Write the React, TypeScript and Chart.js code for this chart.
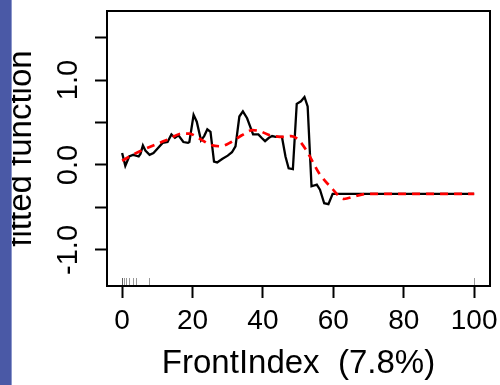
import React, { useEffect, useRef } from "react";
import { Chart, registerables } from "chart.js";

Chart.register(...registerables);

// Partial dependence of the fitted function on FrontIndex
const fitX = [
  0, 0.9, 2, 3.2, 4.7, 5.2, 5.9, 6.6, 7.8, 8.9, 10.2, 11.5, 12.9, 14, 15, 16,
  17.4, 18.7, 19.1, 20.3, 21.2, 22.4, 23.3, 24.2, 25.1, 26.1, 27, 28.4, 30,
  31.2, 32.2, 33.3, 34.3, 35.5, 37.2, 38.7, 39.6, 40.6, 41.7, 42.6, 43.6,
  45.4, 46.4, 47.3, 48.5, 49.6, 50.8, 51.8, 52.7, 53.8, 55.3, 56.2, 57.4,
  58.6, 59.8, 100,
];
const fitY = [
  0.14, -0.01, 0.1, 0.12, 0.1, 0.13, 0.23, 0.17, 0.12, 0.14, 0.2, 0.26, 0.27,
  0.36, 0.32, 0.35, 0.27, 0.26, 0.27, 0.59, 0.51, 0.29, 0.34, 0.42, 0.39,
  0.04, 0.03, 0.07, 0.11, 0.15, 0.22, 0.57, 0.63, 0.55, 0.36, 0.36, 0.32,
  0.28, 0.32, 0.34, 0.33, 0.33, 0.1, -0.04, -0.05, 0.72, 0.75, 0.8, 0.69,
  -0.25, -0.23, -0.29, -0.45, -0.46, -0.34, -0.34,
];

// Smoothed trend of the same function
const smoothX = [
  0, 3, 6, 10, 13, 17, 19, 22, 25, 28, 31, 34, 37, 39, 42, 46, 48, 50, 52.5,
  56, 59.5, 63, 66, 69.5, 75, 100,
];
const smoothY = [
  0.05, 0.12, 0.18, 0.25, 0.3, 0.37, 0.37, 0.31, 0.24, 0.22, 0.27, 0.35, 0.41,
  0.4, 0.35, 0.33, 0.34, 0.3, 0.16, -0.1, -0.27, -0.4, -0.37, -0.34, -0.34,
  -0.34,
];

// Observed FrontIndex values shown as a rug along the bottom
const rugX = [0, 0, 0.5, 1, 2, 3, 4, 7.5, 100];

const xTickValues = [0, 20, 40, 60, 80, 100];
const yTickValues = [-1, -0.5, 0, 0.5, 1, 1.5];
const yTickLabels = ["-1.0", "", "0.0", "", "1.0", ""];
const xTitle = "FrontIndex  (7.8%)";
const yTitle = "fitted function";

const FONT = "'Liberation Sans', Arial, Helvetica, sans-serif";

const framePlugin = {
  id: "frameAndRug",
  afterDatasetsDraw(chart: any) {
    const { ctx, chartArea, scales } = chart;
    const xs = scales.x;
    ctx.save();
    ctx.strokeStyle = "rgba(0,0,0,0.4)";
    ctx.lineWidth = 1;
    for (const v of rugX) {
      const px = Math.round(xs.getPixelForValue(v)) + 0.5;
      ctx.beginPath();
      ctx.moveTo(px, chartArea.bottom);
      ctx.lineTo(px, chartArea.bottom - 8);
      ctx.stroke();
    }
    ctx.strokeStyle = "#000";
    ctx.lineWidth = 2;
    ctx.strokeRect(
      chartArea.left,
      chartArea.top,
      chartArea.right - chartArea.left,
      chartArea.bottom - chartArea.top
    );
    ctx.restore();
  },
  afterDraw(chart: any) {
    const { ctx, scales } = chart;
    const ys = scales.y;
    ctx.save();
    ctx.fillStyle = "#000";
    ctx.font = `29px ${FONT}`;
    ctx.textAlign = "center";
    ctx.textBaseline = "middle";
    yTickValues.forEach((v, i) => {
      const label = yTickLabels[i];
      if (!label) return;
      const py = ys.getPixelForValue(v);
      ctx.save();
      ctx.translate(69, py);
      ctx.rotate(-Math.PI / 2);
      ctx.fillText(label, 0, 0);
      ctx.restore();
    });
    ctx.restore();
  },
};

export default function App() {
  const canvasRef = useRef<HTMLCanvasElement | null>(null);

  useEffect(() => {
    const canvas = canvasRef.current;
    if (!canvas) return;
    const chart = new Chart(canvas, {
      type: "line",
      data: {
        datasets: [
          {
            label: "smooth",
            data: smoothX.map((x, i) => ({ x, y: smoothY[i] })),
            borderColor: "#ff0000",
            borderWidth: 2.7,
            borderDash: [8, 6],
            pointRadius: 0,
            fill: false,
            cubicInterpolationMode: "monotone",
            order: 0,
          },
          {
            label: "fitted",
            data: fitX.map((x, i) => ({ x, y: fitY[i] })),
            borderColor: "#000000",
            borderWidth: 2.3,
            pointRadius: 0,
            fill: false,
            tension: 0,
            order: 1,
          },
        ],
      },
      options: {
        animation: false,
        responsive: false,
        events: [],
        layout: { padding: { top: 11, right: 10, left: 0, bottom: 0 } },
        plugins: {
          legend: { display: false },
          tooltip: { enabled: false },
        },
        scales: {
          x: {
            type: "linear",
            min: -4.3,
            max: 104.5,
            afterBuildTicks: (s: any) => {
              s.ticks = xTickValues.map((value) => ({ value }));
            },
            afterFit: (s: any) => {
              s.height = 99;
              s.paddingLeft = 0;
              s.paddingRight = 0;
            },
            grid: {
              drawOnChartArea: false,
              drawTicks: true,
              tickLength: 12,
              tickWidth: 2,
              tickColor: "#000",
            },
            border: { display: false },
            ticks: {
              color: "#000",
              font: { family: FONT, size: 28 },
              padding: 6,
              maxRotation: 0,
              autoSkip: false,
              callback: (v: any) => String(v),
            },
            title: {
              display: true,
              text: xTitle,
              color: "#000",
              font: { family: FONT, size: 33 },
              padding: { top: 0, bottom: 1 },
            },
          },
          y: {
            type: "linear",
            min: -1.424,
            max: 1.812,
            afterBuildTicks: (s: any) => {
              s.ticks = yTickValues.map((value) => ({ value }));
            },
            afterFit: (s: any) => {
              s.width = 107;
              s.paddingTop = 0;
              s.paddingBottom = 0;
            },
            grid: {
              drawOnChartArea: false,
              drawTicks: true,
              tickLength: 12,
              tickWidth: 2,
              tickColor: "#000",
            },
            border: { display: false },
            ticks: { display: false },
            title: {
              display: true,
              text: yTitle,
              color: "#000",
              font: { family: FONT, size: 33 },
              padding: { top: 2, bottom: 0 },
            },
          },
        },
      },
      plugins: [framePlugin],
    });
    return () => chart.destroy();
  }, []);

  return (
    <div
      style={{
        position: "absolute",
        left: 0,
        top: 0,
        width: 500,
        height: 385,
        background: "#fff",
        overflow: "hidden",
      }}
    >
      <canvas
        ref={canvasRef}
        width={500}
        height={385}
        style={{ display: "block", width: 500, height: 385 }}
      />
      <div
        style={{
          position: "absolute",
          left: 0,
          top: 0,
          width: 11,
          height: 385,
          background: "#4a59a6",
          borderRight: "1px solid #8d97cc",
          zIndex: 1,
        }}
      />
    </div>
  );
}
